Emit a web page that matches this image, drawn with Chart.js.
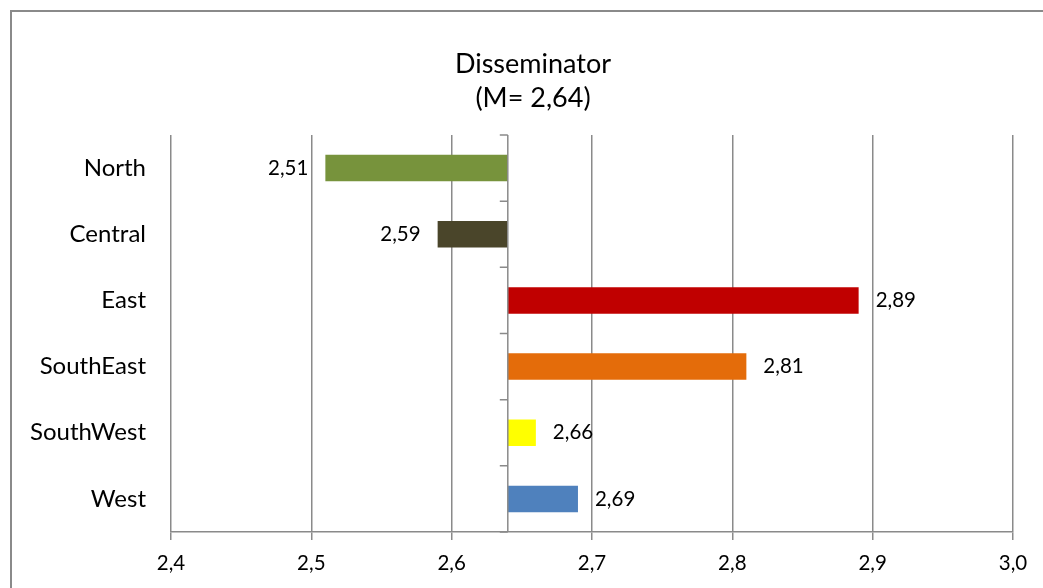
<!DOCTYPE html>
<html>
<head>
<meta charset="utf-8">
<title>Disseminator</title>
<script src="https://cdn.jsdelivr.net/npm/chart.js@4.4.1/dist/chart.umd.min.js"></script>
<style>
  html, body { margin: 0; padding: 0; background: #fff; overflow: hidden; }
  #frame { position: absolute; left: 10px; top: 10px; width: 1100px; height: 700px; border: 2px solid #8a8a8a; }
  #wrap { position: absolute; left: 0; top: 0; width: 1066px; height: 588px; }
</style>
</head>
<body>
<div id="frame"></div>
<div id="wrap"><canvas id="chart" width="1066" height="588"></canvas></div>
<script>
const regions = ["North", "Central", "East", "SouthEast", "SouthWest", "West"];
const scores = [2.51, 2.59, 2.89, 2.81, 2.66, 2.69];
const mean = 2.64;
const barColors = ["#77933C", "#4A452A", "#C00000", "#E46C0A", "#FFFF00", "#4F81BD"];
const xMin = 2.4;
const xMax = 3.0;
const xStep = 0.1;
const titleLines = ["Disseminator", "(M= 2,64)"];

const gray = "#8a8a8a";
const comma = (v, d) => v.toFixed(d).replace(".", ",");

// category axis crosses at the mean, plus the value labels
const meanAxis = {
  id: "meanAxis",
  afterDatasetsDraw(chart) {
    const { ctx, chartArea, scales: { x, y } } = chart;
    const px = x.getPixelForValue(mean);
    ctx.save();
    ctx.strokeStyle = gray;
    ctx.lineWidth = 1.5;
    ctx.beginPath();
    ctx.moveTo(px, chartArea.top);
    ctx.lineTo(px, chartArea.bottom);
    for (let i = 0; i <= regions.length; i++) {
      const ty = y.getPixelForValue(i - 0.5);
      ctx.moveTo(px - 8, ty);
      ctx.lineTo(px, ty);
    }
    ctx.stroke();

    ctx.fillStyle = "#000";
    ctx.font = "20.5px Lato";
    ctx.textBaseline = "middle";
    scores.forEach((v, i) => {
      const ex = x.getPixelForValue(v);
      const cy = y.getPixelForValue(i);
      if (v < mean) {
        ctx.textAlign = "right";
        ctx.fillText(comma(v, 2), ex - 17, cy);
      } else {
        ctx.textAlign = "left";
        ctx.fillText(comma(v, 2), ex + 17, cy);
      }
    });
    ctx.restore();
  }
};

Chart.defaults.font.family = "Lato";
Chart.defaults.color = "#000";

new Chart(document.getElementById("chart"), {
  type: "bar",
  data: {
    labels: regions,
    datasets: [{
      data: scores.map((v) => [mean, v]),
      backgroundColor: barColors,
      borderWidth: 0,
      categoryPercentage: 1,
      barPercentage: 0.4
    }]
  },
  options: {
    indexAxis: "y",
    responsive: false,
    animation: false,
    layout: { padding: 0 },
    plugins: {
      legend: { display: false },
      tooltip: { enabled: false },
      title: {
        display: true,
        text: titleLines,
        color: "#000",
        font: { size: 27, weight: "normal", lineHeight: 1.24 },
        padding: { top: 48, bottom: 20 }
      }
    },
    scales: {
      x: {
        type: "linear",
        min: xMin,
        max: xMax,
        ticks: {
          stepSize: xStep,
          font: { size: 20.5 },
          padding: 11,
          callback: (v) => comma(v, 1)
        },
        grid: { color: gray, lineWidth: 1.5, tickLength: 8 },
        border: { display: true, color: gray, width: 1.5 },
        afterFit(s) { s.height = 56; }
      },
      y: {
        type: "category",
        grid: { display: false, drawTicks: false },
        border: { display: false },
        ticks: { font: { size: 24 }, padding: 25 },
        afterFit(s) { s.width = 171; }
      },
      // empty right-hand strip so the plot ends at 3,0 while the title stays centred on the frame
      yRight: {
        type: "category",
        position: "right",
        grid: { display: false, drawTicks: false },
        border: { display: false },
        ticks: { display: false },
        afterFit(s) { s.width = 53; }
      }
    }
  },
  plugins: [meanAxis]
});
</script>
</body>
</html>
